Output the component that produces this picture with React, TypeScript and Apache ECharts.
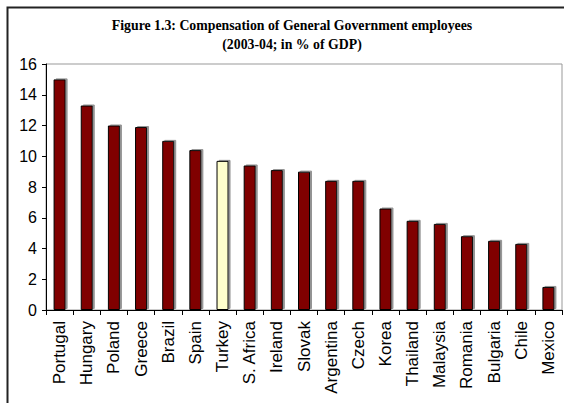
import React, { useEffect, useRef } from "react";
import * as echarts from "echarts";

const titleLines = [
  "Figure 1.3: Compensation of General Government employees",
  "(2003-04; in % of GDP)",
];
const countries = [
  "Portugal", "Hungary", "Poland", "Greece", "Brazil", "Spain", "Turkey",
  "S. Africa", "Ireland", "Slovak", "Argentina", "Czech", "Korea", "Thailand",
  "Malaysia", "Romania", "Bulgaria", "Chile", "Mexico",
];
const compensation = [
  15.0, 13.3, 12.0, 11.9, 11.0, 10.4, 9.7, 9.4, 9.1, 9.0, 8.4, 8.4, 6.6, 5.8,
  5.6, 4.8, 4.5, 4.3, 1.5,
];
const highlighted = "Turkey";
const yTicks = { min: 0, max: 16, interval: 2 };

export default function App() {
  const ref = useRef<HTMLDivElement>(null);
  useEffect(() => {
    document.body.style.margin = "0";
    const chart = echarts.init(ref.current!, null, { renderer: "svg" });
    chart.setOption({
      animation: false,
      backgroundColor: "#ffffff",
      title: {
        text: titleLines.join("\n"),
        left: 287,
        textAlign: "center",
        top: 11,
        textStyle: {
          fontFamily: "'Liberation Serif', 'Times New Roman', serif",
          fontWeight: "bold",
          fontSize: 13.8,
          lineHeight: 19,
          color: "#000",
        },
      },
      graphic: [
        {
          type: "rect",
          shape: { x: 7.5, y: 7.5, width: 700, height: 600 },
          style: { fill: "none", stroke: "#222", lineWidth: 2 },
          silent: true,
          z: 100,
        },
      ],
      grid: {
        left: 46,
        right: 2,
        top: 64,
        bottom: 93,
        show: true,
        borderColor: "#999",
        borderWidth: 1,
        backgroundColor: "transparent",
      },
      xAxis: {
        type: "category",
        data: countries,
        axisLine: { lineStyle: { color: "#000", width: 1 } },
        axisTick: { show: true, alignWithLabel: false, length: 5, lineStyle: { color: "#000" } },
        axisLabel: {
          rotate: 90,
          interval: 0,
          margin: 11,
          fontFamily: "'Liberation Sans', Arial, sans-serif",
          fontSize: 17,
          color: "#000",
        },
      },
      yAxis: {
        type: "value",
        min: yTicks.min,
        max: yTicks.max,
        interval: yTicks.interval,
        splitLine: { show: false },
        axisLine: { show: true, lineStyle: { color: "#000", width: 1 } },
        axisTick: { show: true, length: 4, lineStyle: { color: "#000" } },
        axisLabel: {
          margin: 9,
          fontFamily: "'Liberation Sans', Arial, sans-serif",
          fontSize: 16,
          color: "#000",
        },
      },
      series: [
        {
          type: "bar",
          barWidth: 12,
          data: compensation.map((v, i) => ({
            value: v,
            itemStyle: {
              color: countries[i] === highlighted ? "#FFFFCC" : "#800000",
            },
          })),
          itemStyle: {
            borderColor: "#000",
            borderWidth: 1,
            shadowColor: "rgba(120,120,120,0.8)",
            shadowOffsetX: 2,
            shadowOffsetY: -1,
            shadowBlur: 0,
          },
        },
      ],
    });
    return () => chart.dispose();
  }, []);
  return <div ref={ref} style={{ width: 564, height: 403 }} />;
}
